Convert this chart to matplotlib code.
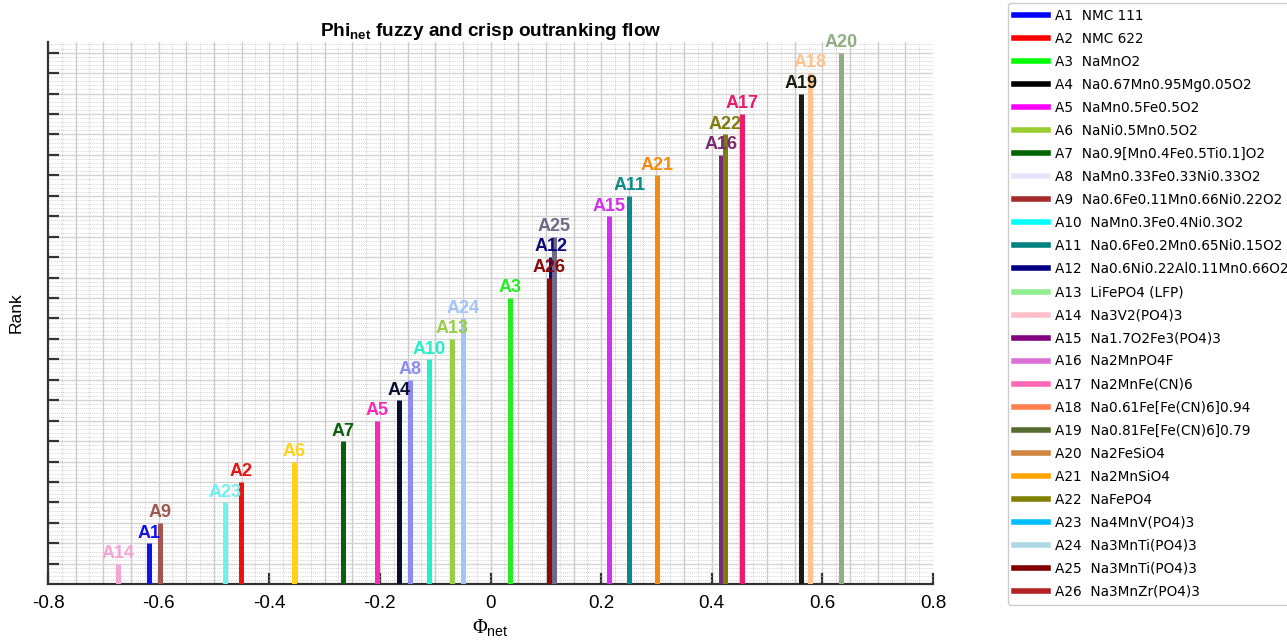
import numpy as np
import matplotlib
matplotlib.use("Agg")
import matplotlib.pyplot as plt
from matplotlib.lines import Line2D

# alternatives
alt_labels = ["A1", "A2", "A3", "A4", "A5", "A6", "A7", "A8", "A9", "A10",
              "A11", "A12", "A13", "A14", "A15", "A16", "A17", "A18", "A19", "A20",
              "A21", "A22", "A23", "A24", "A25", "A26"]
materials = ["NMC 111", "NMC 622", "NaMnO2", "Na0.67Mn0.95Mg0.05O2", "NaMn0.5Fe0.5O2",
             "NaNi0.5Mn0.5O2", "Na0.9[Mn0.4Fe0.5Ti0.1]O2", "NaMn0.33Fe0.33Ni0.33O2",
             "Na0.6Fe0.11Mn0.66Ni0.22O2", "NaMn0.3Fe0.4Ni0.3O2", "Na0.6Fe0.2Mn0.65Ni0.15O2",
             "Na0.6Ni0.22Al0.11Mn0.66O2", "LiFePO4 (LFP)", "Na3V2(PO4)3", "Na1.7O2Fe3(PO4)3",
             "Na2MnPO4F", "Na2MnFe(CN)6", "Na0.61Fe[Fe(CN)6]0.94", "Na0.81Fe[Fe(CN)6]0.79",
             "Na2FeSiO4", "Na2MnSiO4", "NaFePO4", "Na4MnV(PO4)3", "Na3MnTi(PO4)3",
             "Na3MnTi(PO4)3", "Na3MnZr(PO4)3"]
phi_net = [-0.617, -0.451, 0.035, -0.166, -0.206, -0.356, -0.267, -0.146, -0.598, -0.111,
           0.251, 0.110, -0.069, -0.674, 0.215, 0.417, 0.454, 0.578, 0.562, 0.633,
           0.301, 0.424, -0.480, -0.050, 0.115, 0.106]
rank = [2, 5, 14, 9, 8, 6, 7, 10, 3, 11,
        19, 16, 12, 1, 18, 21, 23, 25, 24, 26,
        20, 22, 4, 13, 17, 15]

bar_colors = ["#1010F0", "#EE1111", "#22EE22", "#0D0D30", "#F72BB8", "#FFD21A", "#0B5E0B",
              "#8C8CF2", "#A0574F", "#22F0C8", "#0C8A8A", "#0A0A7A", "#9ACD4A", "#F3A5D5",
              "#D42EF0", "#7A2A70", "#EE1A6E", "#FFC48F", "#1A1A0E", "#8FAE82", "#F58A0F",
              "#7F7A10", "#70F0F0", "#A3C4F5", "#6E6A88", "#8B0A0A"]
legend_colors = ["blue", "red", "lime", "black", "magenta", "yellowgreen", "darkgreen",
                 "lavender", "brown", "cyan", "teal", "navy", "lightgreen", "pink", "purple",
                 "orchid", "hotpink", "coral", "darkolivegreen", "peru", "orange", "olive",
                 "deepskyblue", "lightblue", "maroon", "firebrick"]

plt.rcParams["font.family"] = ["Liberation Sans", "DejaVu Sans"]
plt.rcParams["mathtext.fontset"] = "custom"
plt.rcParams["mathtext.rm"] = "Liberation Sans"
plt.rcParams["mathtext.bf"] = "Liberation Sans:bold"
plt.rcParams["mathtext.sf"] = "Liberation Serif"

fig = plt.figure(figsize=(12.87, 6.42), dpi=100)
ax = fig.add_axes([0.0373, 0.0899, 0.6877, 0.845])

# grid, MATLAB style
for gx in np.arange(-0.75, 0.8, 0.05):
    ax.axvline(gx, color="#d0d0d0", lw=1.0, zorder=0)
for gy in range(1, 27):
    ax.axhline(gy, color="#d4d4d4", lw=1.0, zorder=0)
ax.set_yticks(np.arange(0.2, 26.5, 0.2), minor=True)
ax.set_xticks(np.arange(-0.8, 0.81, 0.025), minor=True)
ax.grid(which="minor", color="#c4c4c4", linestyle=(0, (1, 1.5)), lw=0.6, zorder=0)
ax.tick_params(which="minor", length=0)

ax.vlines(phi_net, 0, rank, colors=bar_colors, lw=3.6, zorder=3)
for lab, x, r, c in zip(alt_labels, phi_net, rank, bar_colors):
    ax.text(x, r + 0.08, lab, color=c, ha="center", va="bottom",
            fontsize=13, fontweight="bold", zorder=4)

ax.set_xlim(-0.8, 0.8)
ax.set_ylim(0, 26.53)
ax.set_xticks(np.round(np.arange(-0.8, 0.81, 0.2), 1))
ax.set_xticklabels(["-0.8", "-0.6", "-0.4", "-0.2", "0", "0.2", "0.4", "0.6", "0.8"])
ax.set_yticks(range(1, 27))
ax.set_yticklabels([])
ax.tick_params(which="major", direction="in", length=8, width=1.6, color="#333333",
               labelsize=13.5)
ax.tick_params(axis="x", pad=8)
for s in ["top", "right"]:
    ax.spines[s].set_visible(False)
for s in ["left", "bottom"]:
    ax.spines[s].set_linewidth(1.6)
    ax.spines[s].set_color("#333333")

ax.set_title(r"Phi$_{\mathbf{net}}$ fuzzy and crisp outranking flow",
             fontsize=13.7, fontweight="bold", pad=3.5)
ax.set_xlabel(r"$\mathsf{\Phi}_{\mathrm{net}}$", fontsize=14.5, labelpad=4)
ax.set_ylabel("Rank", fontsize=12.5, labelpad=14)

handles = [Line2D([0], [0], color=c, lw=4) for c in legend_colors]
labels = [f"{a}  {m}" for a, m in zip(alt_labels, materials)]
fig.legend(handles, labels, loc="upper left", bbox_to_anchor=(1008 / 1287, 0.996),
           prop={"family": "DejaVu Sans", "size": 9.8}, labelspacing=0.665,
           handlelength=2.5, handletextpad=0.5, borderpad=0.45, borderaxespad=0,
           frameon=True, edgecolor="#cccccc", framealpha=1)

fig.savefig("out.png", dpi=100)
